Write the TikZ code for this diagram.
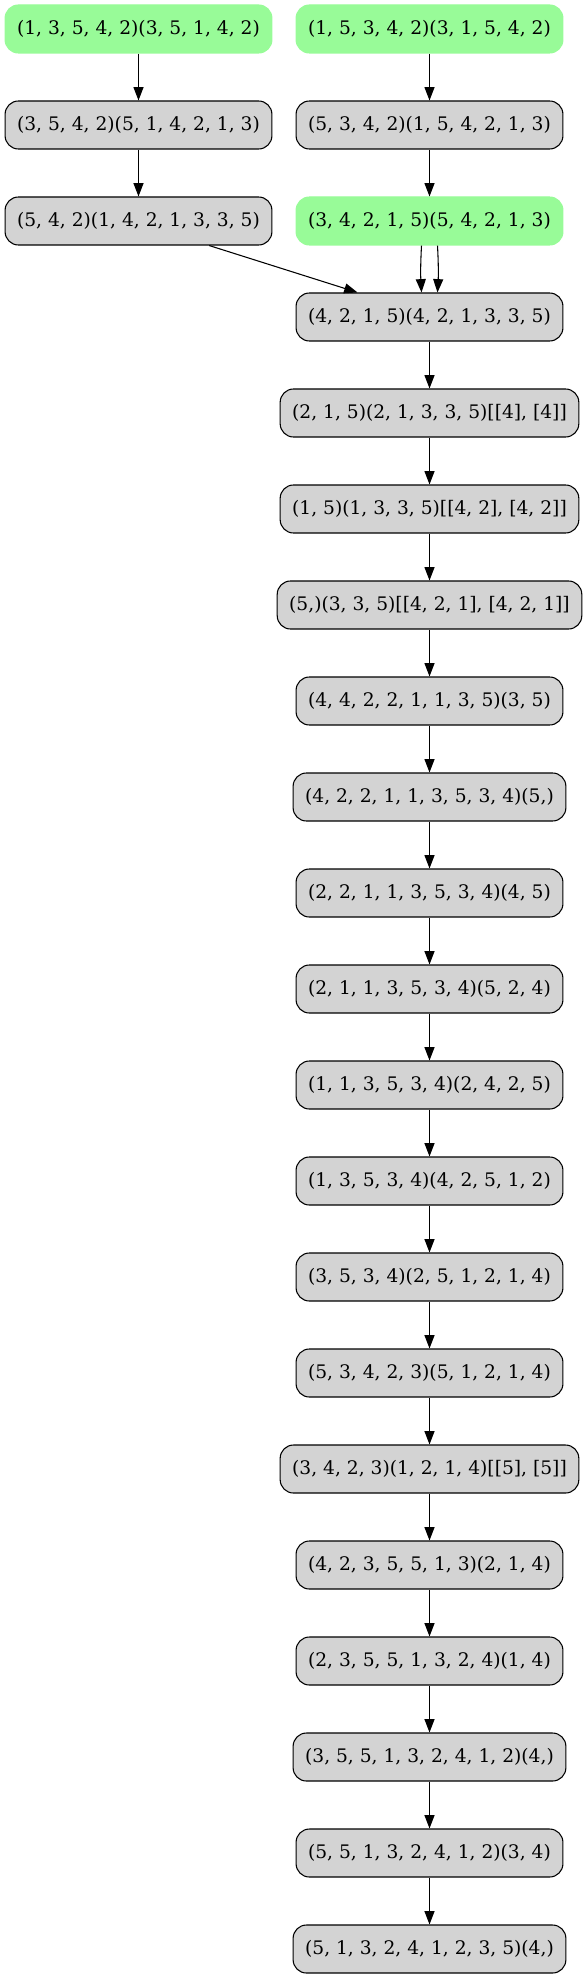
\documentclass[tikz,border=0pt]{standalone}
\usepackage{fontspec}
\setmainfont{DejaVu Serif}
\usetikzlibrary{arrows.meta}
\definecolor{startgreen}{HTML}{98FB98}
\definecolor{stepgray}{HTML}{D3D3D3}

\begin{document}
\begin{tikzpicture}[
    x=0.75pt, y=-0.75pt,
    state/.style={rectangle, rounded corners=10pt, draw=black, line width=0.8pt, fill=stepgray,
                  minimum height=36pt, inner xsep=9pt, inner ysep=0pt,
                  font=\fontsize{14pt}{17pt}\selectfont},
    start/.style={state, draw=startgreen, fill=startgreen},
    move/.style={-{Triangle[length=10pt,width=7.5pt]}, line width=0.8pt}
]

\useasboundingbox (0,0) rectangle (586,1979);

% left branch
\node[start] (L1) at (138.5,29)  {(1, 3, 5, 4, 2)(3, 5, 1, 4, 2)};
\node[state] (L2) at (138.5,125) {(3, 5, 4, 2)(5, 1, 4, 2, 1, 3)};
\node[state] (L3) at (138.5,221) {(5, 4, 2)(1, 4, 2, 1, 3, 3, 5)};

% right branch
\node[start] (R1) at (429.5,29)  {(1, 5, 3, 4, 2)(3, 1, 5, 4, 2)};
\node[state] (R2) at (429.5,125) {(5, 3, 4, 2)(1, 5, 4, 2, 1, 3)};
\node[start] (R3) at (429.5,221) {(3, 4, 2, 1, 5)(5, 4, 2, 1, 3)};

% main chain
\foreach \txt [count=\i from 4] in {
  {(4, 2, 1, 5)(4, 2, 1, 3, 3, 5)},
  {(2, 1, 5)(2, 1, 3, 3, 5)[[4], [4]]},
  {(1, 5)(1, 3, 3, 5)[[4, 2], [4, 2]]},
  {(5,)(3, 3, 5)[[4, 2, 1], [4, 2, 1]]},
  {(4, 4, 2, 2, 1, 1, 3, 5)(3, 5)},
  {(4, 2, 2, 1, 1, 3, 5, 3, 4)(5,)},
  {(2, 2, 1, 1, 3, 5, 3, 4)(4, 5)},
  {(2, 1, 1, 3, 5, 3, 4)(5, 2, 4)},
  {(1, 1, 3, 5, 3, 4)(2, 4, 2, 5)},
  {(1, 3, 5, 3, 4)(4, 2, 5, 1, 2)},
  {(3, 5, 3, 4)(2, 5, 1, 2, 1, 4)},
  {(5, 3, 4, 2, 3)(5, 1, 2, 1, 4)},
  {(3, 4, 2, 3)(1, 2, 1, 4)[[5], [5]]},
  {(4, 2, 3, 5, 5, 1, 3)(2, 1, 4)},
  {(2, 3, 5, 5, 1, 3, 2, 4)(1, 4)},
  {(3, 5, 5, 1, 3, 2, 4, 1, 2)(4,)},
  {(5, 5, 1, 3, 2, 4, 1, 2)(3, 4)},
  {(5, 1, 3, 2, 4, 1, 2, 3, 5)(4,)}}{
  \node[state] (R\i) at (429.5,{29+96*(\i-1)}) {\txt};
}

\draw[move] (L1) -- (L2);
\draw[move] (L2) -- (L3);
\draw[move] (R1) -- (R2);
\draw[move] (R2) -- (R3);
\draw[move] ([xshift=53pt]L3.south) -- ([xshift=-54pt]R4.north);
\draw[move] ([xshift=-6pt]R3.south) to[bend right=3] ([xshift=-6pt]R4.north);
\draw[move] ([xshift=6pt]R3.south) to[bend left=3] ([xshift=6pt]R4.north);

\foreach \i [evaluate=\i as \j using int(\i+1)] in {4,...,20}{
  \draw[move] (R\i) -- (R\j);
}

\end{tikzpicture}
\end{document}
